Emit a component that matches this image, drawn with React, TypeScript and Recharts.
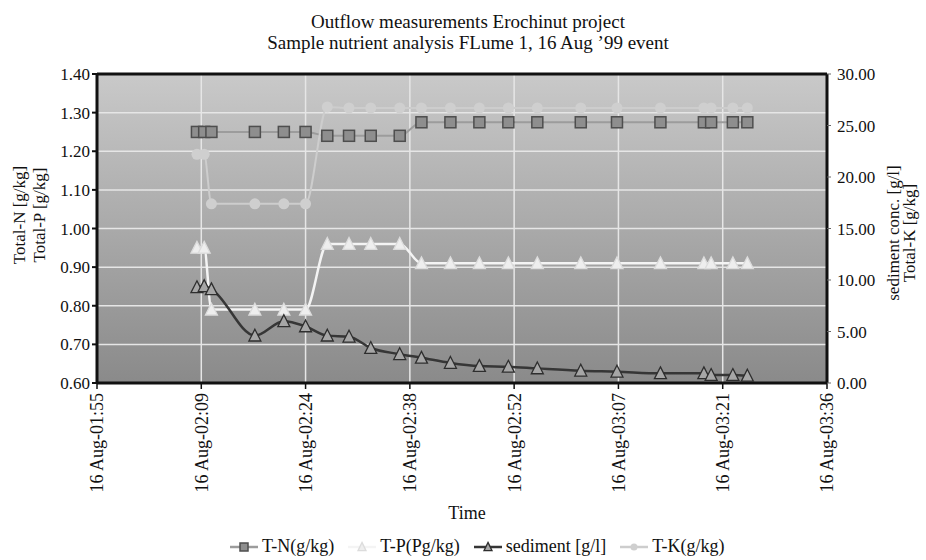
import React from "react";
import {
  LineChart,
  Line,
  XAxis,
  YAxis,
  CartesianGrid,
  Legend,
  ReferenceLine,
} from "recharts";

// sample times, 16 Aug '99
const TIMES = [
  "02:09", "02:10", "02:11", "02:17", "02:21", "02:24", "02:27", "02:30",
  "02:33", "02:37", "02:40", "02:44", "02:48", "02:52", "02:56", "03:02",
  "03:07", "03:13", "03:19", "03:20", "03:23", "03:25",
];
const TOTAL_N = [
  1.25, 1.25, 1.25, 1.25, 1.25, 1.25, 1.24, 1.24, 1.24, 1.24, 1.275,
  1.275, 1.275, 1.275, 1.275, 1.275, 1.275, 1.275, 1.275, 1.275, 1.275, 1.275,
];
const TOTAL_P = [
  0.95, 0.95, 0.79, 0.79, 0.79, 0.79, 0.96, 0.96, 0.96, 0.96, 0.91,
  0.91, 0.91, 0.91, 0.91, 0.91, 0.91, 0.91, 0.91, 0.91, 0.91, 0.91,
];
const SEDIMENT = [
  9.3, 9.4, 9.1, 4.6, 6.0, 5.5, 4.6, 4.5, 3.4, 2.8, 2.45,
  1.95, 1.65, 1.58, 1.42, 1.2, 1.1, 0.94, 0.94, 0.78, 0.78, 0.71,
];
const TOTAL_K = [
  22.2, 22.2, 17.4, 17.4, 17.4, 17.4, 26.8, 26.7, 26.7, 26.7, 26.7,
  26.7, 26.7, 26.7, 26.7, 26.7, 26.7, 26.7, 26.7, 26.7, 26.7, 26.7,
];

// minutes after midnight (Excel steps of 0.01 day)
const X_TICKS = [115.2, 129.6, 144, 158.4, 172.8, 187.2, 201.6, 216];
const LEFT_TICKS = [0.6, 0.7, 0.8, 0.9, 1.0, 1.1, 1.2, 1.3, 1.4];
const RIGHT_TICKS = [0, 5, 10, 15, 20, 25, 30];
const NAMES = ["T-N(g/kg)", "T-P(Pg/kg)", "sediment [g/l]", "T-K(g/kg)"];

const FONT = '"Liberation Serif", "Times New Roman", serif';
const INK = "#111";

const toMinutes = (t: string) => {
  const [h, m] = t.split(":").map(Number);
  return h * 60 + m;
};
const pad = (n: number) => String(n).padStart(2, "0");
const fmtTime = (m: number) =>
  `16 Aug-${pad(Math.floor(m / 60))}:${pad(Math.floor(m % 60))}`;

const data = TIMES.map((t, i) => ({
  t: toMinutes(t),
  tn: TOTAL_N[i],
  tp: TOTAL_P[i],
  sed: SEDIMENT[i],
  tk: TOTAL_K[i],
}));

const STYLE = {
  tn: { line: "#9c9c9c", fill: "#8e8e8e", edge: "#4e4e4e" },
  tp: { line: "#f4f4f4", fill: "#eeeeee", edge: "#dcdcdc" },
  sed: { line: "#363636", fill: "#a6a6a6", edge: "#2e2e2e" },
  tk: { line: "#cdcdcd", fill: "#cfcfcf", edge: "#cfcfcf" },
};

function Square({ cx, cy, fill, edge, s = 11 }: any) {
  if (cx == null || cy == null) return null;
  return (
    <rect x={cx - s / 2} y={cy - s / 2} width={s} height={s} fill={fill} stroke={edge} strokeWidth={1.5} />
  );
}

function Tri({ cx, cy, fill, edge, s = 12 }: any) {
  if (cx == null || cy == null) return null;
  const h = s * 0.9;
  return (
    <path
      d={`M${cx},${cy - h / 2 - 1} L${cx + s / 2},${cy + h / 2} L${cx - s / 2},${cy + h / 2} Z`}
      fill={fill}
      stroke={edge}
      strokeWidth={1.3}
    />
  );
}

function Dot({ cx, cy, fill, r = 5.5 }: any) {
  if (cx == null || cy == null) return null;
  return <circle cx={cx} cy={cy} r={r} fill={fill} />;
}

const XTick = ({ x, y, payload }: any) => (
  <text
    transform={`translate(${x},${y}) rotate(-90)`}
    x={-2}
    dy="0.36em"
    textAnchor="end"
    fill={INK}
    fontSize={18}
    fontFamily={FONT}
  >
    {fmtTime(payload.value)}
  </text>
);

const LeftTitle = () => (
  <text transform="translate(0,215) rotate(-90)" textAnchor="middle" fill={INK} fontSize={17} fontFamily={FONT}>
    <tspan x={0} y={25}>Total-N [g/kg]</tspan>
    <tspan x={0} y={45}>Total-P [g/kg]</tspan>
  </text>
);

const RightTitle = () => (
  <text transform="translate(0,233) rotate(-90)" textAnchor="middle" fill={INK} fontSize={17} fontFamily={FONT}>
    <tspan x={0} y={899}>sediment conc. [g/l]</tspan>
    <tspan x={0} y={915}>Total-K [g/kg]</tspan>
  </text>
);

const TimeTitle = ({ viewBox }: any) => (
  <text
    x={viewBox.x + viewBox.width / 2 + 5}
    y={viewBox.y + 136}
    textAnchor="middle"
    fill={INK}
    fontSize={18}
    fontFamily={FONT}
  >
    Time
  </text>
);

const MARKERS = [
  (cx: number, cy: number) => <Square cx={cx} cy={cy} s={8} {...STYLE.tn} />,
  (cx: number, cy: number) => <Tri cx={cx} cy={cy} s={8} {...STYLE.tp} />,
  (cx: number, cy: number) => <Tri cx={cx} cy={cy} s={8} {...STYLE.sed} />,
  (cx: number, cy: number) => <Dot cx={cx} cy={cy} r={3.5} {...STYLE.tk} />,
];
const LINE_COLORS = [STYLE.tn.line, STYLE.tp.line, STYLE.sed.line, STYLE.tk.line];

const LegendBox = () => (
  <div style={{ display: "flex", alignItems: "center", gap: 14, fontFamily: FONT, fontSize: 18, color: INK, whiteSpace: "nowrap" }}>
    {NAMES.map((name, i) => (
      <div key={name} style={{ display: "flex", alignItems: "center", gap: 4 }}>
        <svg width={28} height={14}>
          <line x1={0} y1={7} x2={28} y2={7} stroke={LINE_COLORS[i]} strokeWidth={2.5} />
          {MARKERS[i](14, 7)}
        </svg>
        <span>{name}</span>
      </div>
    ))}
  </div>
);

export default function App() {
  return (
    <div style={{ position: "relative", width: 926, height: 560, background: "#fff" }}>
      <style>{"body{margin:0}"}</style>
      <div
        style={{
          position: "absolute",
          top: 11,
          left: 0,
          width: 926,
          paddingLeft: 10,
          boxSizing: "border-box",
          textAlign: "center",
          fontFamily: FONT,
          fontSize: 19,
          lineHeight: "21px",
          color: INK,
        }}
      >
        <div>Outflow measurements Erochinut project</div>
        <div>Sample nutrient analysis FLume 1, 16 Aug &rsquo;99 event</div>
      </div>
      <LineChart width={926} height={560} data={data} margin={{ top: 74, right: 0, bottom: 0, left: 0 }}>
        <defs>
          <linearGradient id="plotBg" x1="0" y1="0" x2="0" y2="1">
            <stop offset="0%" stopColor="#c9c9c9" />
            <stop offset="100%" stopColor="#8a8a8a" />
          </linearGradient>
        </defs>
        <CartesianGrid
          yAxisId="left"
          fill="url(#plotBg)"
          fillOpacity={1}
          stroke="#e6e6e6"
          strokeWidth={1.5}
          verticalValues={X_TICKS}
          horizontalValues={LEFT_TICKS}
        />
        <XAxis
          dataKey="t"
          type="number"
          domain={[115.2, 216]}
          ticks={X_TICKS}
          interval={0}
          height={177}
          tick={<XTick />}
          tickSize={6}
          axisLine={{ stroke: INK, strokeWidth: 3 }}
          tickLine={{ stroke: INK, strokeWidth: 1.5 }}
          label={<TimeTitle />}
        />
        <YAxis
          yAxisId="left"
          width={97}
          domain={[0.6, 1.4]}
          ticks={LEFT_TICKS}
          interval={0}
          tickFormatter={(v: number) => v.toFixed(2)}
          tick={{ fill: INK, fontSize: 17, fontFamily: FONT }}
          tickSize={5}
          tickMargin={2}
          axisLine={{ stroke: INK, strokeWidth: 3 }}
          tickLine={{ stroke: INK, strokeWidth: 2 }}
          label={<LeftTitle />}
        />
        <YAxis
          yAxisId="right"
          orientation="right"
          width={99}
          domain={[0, 30]}
          ticks={RIGHT_TICKS}
          interval={0}
          tickFormatter={(v: number) => v.toFixed(2)}
          tick={{ fill: INK, fontSize: 17, fontFamily: FONT }}
          tickSize={4}
          tickMargin={6}
          axisLine={{ stroke: INK, strokeWidth: 3 }}
          tickLine={{ stroke: "#666", strokeWidth: 1 }}
          label={<RightTitle />}
        />
        <ReferenceLine yAxisId="left" y={1.4} stroke={INK} strokeWidth={3} />
        <Line
          yAxisId="left"
          dataKey="tn"
          name={NAMES[0]}
          type="monotone"
          stroke={STYLE.tn.line}
          strokeWidth={2}
          isAnimationActive={false}
          dot={(p: any) => <Square key={`tn${p.index}`} cx={p.cx} cy={p.cy} {...STYLE.tn} />}
        />
        <Line
          yAxisId="left"
          dataKey="tp"
          name={NAMES[1]}
          type="monotone"
          stroke={STYLE.tp.line}
          strokeWidth={2.5}
          isAnimationActive={false}
          dot={(p: any) => <Tri key={`tp${p.index}`} cx={p.cx} cy={p.cy} {...STYLE.tp} />}
        />
        <Line
          yAxisId="right"
          dataKey="sed"
          name={NAMES[2]}
          type="monotone"
          stroke={STYLE.sed.line}
          strokeWidth={2.5}
          isAnimationActive={false}
          dot={(p: any) => <Tri key={`sd${p.index}`} cx={p.cx} cy={p.cy} {...STYLE.sed} />}
        />
        <Line
          yAxisId="right"
          dataKey="tk"
          name={NAMES[3]}
          type="monotone"
          stroke={STYLE.tk.line}
          strokeWidth={2}
          isAnimationActive={false}
          dot={(p: any) => <Dot key={`tk${p.index}`} cx={p.cx} cy={p.cy} {...STYLE.tk} />}
        />
        <Legend
          layout="horizontal"
          verticalAlign="middle"
          align="center"
          content={<LegendBox />}
          wrapperStyle={{ top: 536, left: 230, width: "auto" }}
        />
      </LineChart>
    </div>
  );
}
